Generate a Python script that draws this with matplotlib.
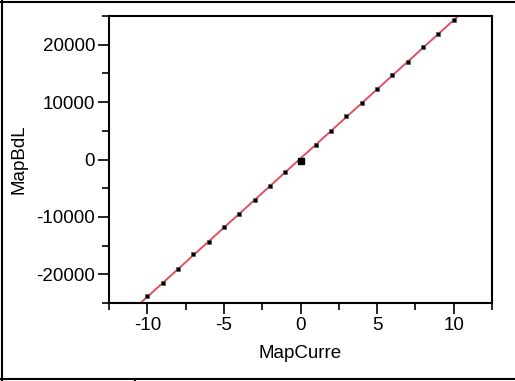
import numpy as np
import matplotlib
matplotlib.use("Agg")
import matplotlib.pyplot as plt
from matplotlib.lines import Line2D
from matplotlib.ticker import MultipleLocator

plt.rcParams["font.family"] = ["Liberation Sans", "DejaVu Sans"]
plt.rcParams["axes.unicode_minus"] = False

# data
current = [-10, -9, -8, -7, -6, -5, -4, -3, -2, -1, 0, 1, 2, 3, 4, 5, 6, 7, 8, 9, 10]
bdl = [-23830, -21570, -19150, -16520, -14380, -11830, -9460, -7130, -4590, -2160,
       -300, 2610, 5040, 7530, 9790, 12300, 14780, 16970, 19580, 21790, 24280]
selected = 0  # highlighted point

W, H = 515, 381
fig = plt.figure(figsize=(W / 100, H / 100), dpi=100)
ax = fig.add_axes([109 / W, (H - 303) / H, 383 / W, 287 / H])

# linear fit line
slope, icpt = np.polyfit(current, bdl, 1)
xs = np.array([-12.5, 12.5])
ax.plot(xs, icpt + slope * xs, color="#e0505f", lw=1.4, zorder=2)

ax.plot(current, bdl, ls="none", marker="s", ms=2.3, mfc="black", mec="#555555",
        mew=0.5, zorder=3)
idx = current.index(selected)
ax.plot([current[idx]], [bdl[idx]], ls="none", marker="s", ms=5, color="black", zorder=4)

ax.set_xlim(-12.5, 12.5)
ax.set_ylim(-25000, 25000)
ax.xaxis.set_major_locator(MultipleLocator(5))
ax.xaxis.set_minor_locator(MultipleLocator(2.5))
ax.yaxis.set_major_locator(MultipleLocator(10000))
ax.yaxis.set_minor_locator(MultipleLocator(5000))
ax.tick_params(which="both", direction="out", width=1.2, labelsize=13.5, color="black")
ax.tick_params(which="major", length=8, pad=2)
ax.tick_params(which="minor", length=5)
for s in ax.spines.values():
    s.set_linewidth(1.5)

ax.set_xlabel("MapCurre", fontsize=13.5)
ax.set_ylabel("MapBdL", fontsize=13.5)
ax.xaxis.set_label_coords(0.5, -0.148)
ax.yaxis.set_label_coords(-0.212, 0.5)

# outer frame lines
fig.add_artist(Line2D([0, 1], [1 - 1.5 / H, 1 - 1.5 / H], color="black", lw=1.5))
fig.add_artist(Line2D([1.5 / W, 1.5 / W], [0, 1], color="black", lw=1.5))
fig.add_artist(Line2D([0, 1], [2 / H, 2 / H], color="black", lw=1.5))
fig.add_artist(Line2D([135 / W, 135 / W], [0, 2 / H], color="black", lw=1.5))

fig.savefig("out.png", dpi=100)
